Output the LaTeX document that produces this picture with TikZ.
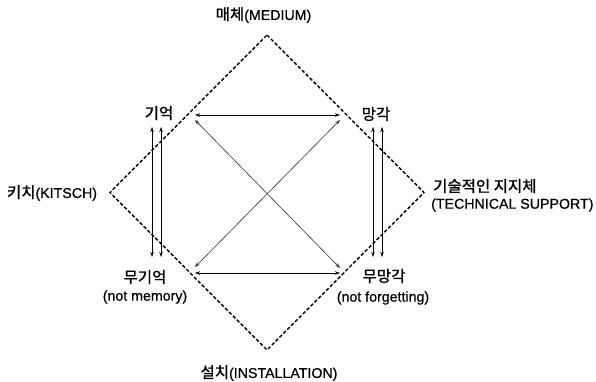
\documentclass[tikz,border=0pt]{standalone}
\usepackage{fontspec}
\setmainfont{Liberation Sans}[FakeBold=0.6]
\newfontfamily\kr{Noto Sans CJK KR}[FakeBold=1.2]
\usetikzlibrary{arrows.meta}
\tikzset{
  lbl/.style={inner sep=0pt, font=\fontsize{14.2}{16}\selectfont},
  frame/.style={line width=1.4pt, dash pattern=on 3.5pt off 2pt},
  twoway/.style={line width=0.7pt, {Stealth[length=5pt,width=3.5pt]}-{Stealth[length=5pt,width=3.5pt]}},
  diag/.style={twoway, line width=0.6pt, draw=black!80}
}
\newcommand{\ko}[1]{{\fontsize{15.5}{17}\selectfont\kr #1}}
\begin{document}
\begin{tikzpicture}[x=1pt,y=-1pt]
\useasboundingbox (0,0) rectangle (596,382);
% diamond
\coordinate (top) at (267,35);
\coordinate (rgt) at (424,192.5);
\coordinate (bot) at (267,350);
\coordinate (lft) at (110,192.5);
\draw[frame] (top) -- (rgt) -- (bot) -- (lft) -- cycle;
% arrow endpoints
\coordinate (mTL) at (195,115);
\coordinate (mTR) at (340,115);
\coordinate (mBL) at (195,273);
\coordinate (mBR) at (340,273);
\coordinate (dTL) at (195,120);
\coordinate (dBR) at (340,268);
\coordinate (dBL) at (195,267);
\coordinate (dTR) at (340,120);
\coordinate (v1t) at (152,127);
\coordinate (v1b) at (152,257);
\coordinate (v2t) at (161,127);
\coordinate (v2b) at (161,257);
\coordinate (v3t) at (373,127);
\coordinate (v3b) at (373,257);
\coordinate (v4t) at (382,127);
\coordinate (v4b) at (382,257);
\draw[twoway] (mTL) -- (mTR);
\draw[twoway] (mBL) -- (mBR);
\draw[diag] (dTL) -- (dBR);
\draw[diag] (dBL) -- (dTR);
\draw[twoway] (v1t) -- (v1b);
\draw[twoway] (v2t) -- (v2b);
\draw[twoway] (v3t) -- (v3b);
\draw[twoway] (v4t) -- (v4b);
% labels
\node[lbl] (medium) at (263.5,15) {\ko{매체}(MEDIUM)};
\node[lbl] (mem) at (159,113) {\ko{기억}};
\node[lbl] (forget) at (376,114) {\ko{망각}};
\node[lbl] (kitsch) at (52,193) {\ko{키치}(KITSCH)};
\node[lbl, anchor=west] (tech) at (433,186) {\ko{기술적인 지지체}};
\node[lbl, anchor=west] (techen) at (431,205) {(TECHNICAL SUPPORT)};
\node[lbl] (nmem) at (145,277) {\ko{무기억}};
\node[lbl] (nmemen) at (145,297) {(not memory)};
\node[lbl] (nfor) at (384,276) {\ko{무망각}};
\node[lbl] (nforen) at (383,298) {(not forgetting)};
\node[lbl] (inst) at (269,373) {\ko{설치}(INSTALLATION)};
\end{tikzpicture}
\end{document}
